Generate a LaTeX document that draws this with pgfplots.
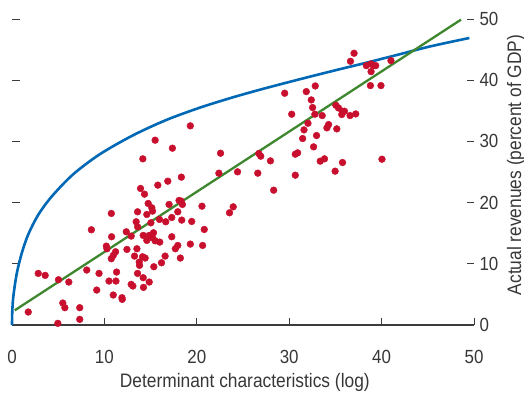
\documentclass[border=0pt]{standalone}
\usepackage{fontspec}
\setmainfont{Liberation Sans}[FakeStretch=0.89]
\usepackage{pgfplots}
\pgfplotsset{compat=1.18}
\definecolor{dotred}{RGB}{200,16,46}
\definecolor{curveblue}{RGB}{0,104,180}
\definecolor{linegreen}{RGB}{62,135,46}
\definecolor{txtgray}{RGB}{55,55,55}
\definecolor{axgray}{RGB}{60,60,60}
\begin{document}
\begin{tikzpicture}[x=1pt,y=1pt]
\path[use as bounding box] (-12,-67) rectangle (512,325);
% left-side tick marks only
\begin{axis}[
  at={(0,0)}, anchor=south west,
  scale only axis, width=462pt, height=306pt,
  xmin=0, xmax=50, ymin=0, ymax=50,
  hide x axis,
  axis y line*=left,
  y axis line style={draw=none},
  ytick={10,20,30,40,50}, yticklabels={},
  tick align=inside, major tick length=8pt,
  tick style={draw=axgray, line width=1pt},
]
\end{axis}
\begin{axis}[
  at={(0,0)}, anchor=south west,
  scale only axis, width=462pt, height=306pt,
  xmin=0, xmax=50, ymin=0, ymax=50,
  axis x line*=bottom, axis y line*=right,
  y axis line style={draw=none},
  x axis line style={draw=axgray, line width=1.2pt, -},
  xtick={0,10,20,30,40,50}, ytick={0,10,20,30,40,50},
  tick align=inside, major tick length=7pt,
  tick style={draw=axgray, line width=1pt},
  /pgf/number format/assume math mode=true,
  ticklabel style={font=\fontsize{19}{21}\selectfont, text=txtgray},
  xticklabel style={anchor=base, yshift=-38pt},
  yticklabel style={anchor=west, xshift=2pt},
  xlabel={Determinant characteristics (log)},
  ylabel={Actual revenues (percent of GDP)},
  label style={font=\fontsize{19.5}{21}\selectfont, text=txtgray},
  xlabel style={at={(axis description cs:0.504,0)}, anchor=base, yshift=-62pt},
  ylabel style={at={(axis description cs:1,0.523)}, anchor=center, yshift=-42pt},
  clip=false,
]
\addplot[only marks, mark=*, mark size=3.4pt, color=dotred, mark options={draw=dotred, fill=dotred}] coordinates {
(1.76,2.12) (2.84,8.43) (3.59,8.11) (5.03,7.40) (6.15,7.02) (4.96,0.27) (5.50,3.59) (5.72,2.83)
(7.33,2.83) (7.33,0.92) (8.09,8.98) (8.59,15.56) (9.42,8.43) (9.17,5.71) (10.21,12.89) (10.28,12.46)
(10.50,7.18) (10.75,18.23) (10.78,14.42) (10.75,10.83) (10.96,11.37) (11.21,11.97) (10.96,4.90) (11.32,8.65)
(11.25,7.18) (11.90,4.46) (11.93,4.19) (12.37,15.23) (12.44,12.35) (12.90,14.53) (12.90,6.64) (13.08,6.37)
(13.26,11.26) (13.44,16.87) (13.52,12.46) (13.59,18.50) (13.59,16.05) (13.59,8.43) (13.80,9.74) (13.77,10.28)
(13.91,22.31) (14.16,27.15) (14.13,11.15) (14.20,14.64) (14.23,6.15) (14.20,7.73) (14.34,21.38) (14.41,10.94)
(14.59,18.06) (14.74,19.86) (14.59,13.82) (14.85,14.64) (14.85,7.02) (15.03,16.70) (15.13,19.15) (15.21,18.61)
(15.21,14.25) (15.31,15.07) (15.35,9.52) (15.49,30.20) (15.49,13.76) (15.78,22.85) (15.96,17.25) (15.99,13.55)
(16.18,10.17) (16.57,11.26) (16.64,16.87) (16.86,23.50) (17.00,19.70) (17.29,17.57) (17.29,14.42) (17.36,28.89)
(17.68,12.46) (17.94,13.00) (17.94,18.50) (18.08,20.35) (18.30,20.24) (18.33,24.16) (18.37,17.14) (18.44,19.70)
(18.22,10.94) (19.30,32.54) (19.30,13.22) (19.45,16.92) (20.56,19.42) (20.63,13.00) (20.81,15.61) (22.39,24.81)
(22.57,28.07) (23.54,18.34) (23.94,19.31) (24.41,25.03) (26.60,24.81) (26.71,28.02) (26.92,27.58) (27.97,26.82)
(28.32,22.03) (29.51,37.87) (30.27,34.44) (30.66,24.48) (30.66,27.91) (30.91,28.13) (31.45,30.47) (31.60,31.88)
(31.85,38.14) (32.03,32.97) (32.39,36.78) (32.53,35.53) (32.64,29.11) (32.82,39.06) (32.78,34.44) (32.96,30.96)
(33.36,26.77) (33.57,34.22) (33.82,27.15) (34.08,32.21) (34.26,32.75) (34.97,25.14) (35.05,35.91) (35.15,32.05)
(35.33,35.47) (35.69,34.39) (35.77,34.93) (35.98,34.93) (35.77,26.55) (36.59,34.22) (36.63,43.09) (37.02,44.40)
(37.20,34.49) (38.35,42.38) (38.86,42.66) (39.11,42.38) (39.36,42.38) (38.86,41.40) (38.79,39.12) (39.93,39.12)
(40.04,27.09) (41.01,43.20)
};
\addplot[smooth, color=curveblue, line width=2.6pt] coordinates {
(0,0) (0.03,2.2) (0.14,4.6) (0.5,8.3) (1.05,11.7) (1.76,14.8) (2.84,18.0) (4.3,21.0) (6.6,24.6)
(9.5,27.9) (13.1,31.0) (16.7,33.5) (20.3,35.5) (23.9,37.2) (27.2,38.6) (31,40.1) (34.4,41.4)
(38.2,42.8) (41.6,44.1) (45.2,45.5) (49.5,46.9)
};
\addplot[color=linegreen, line width=2.3pt] coordinates {(0.3,2.4) (48.6,49.9)};
\end{axis}
\end{tikzpicture}
\end{document}
